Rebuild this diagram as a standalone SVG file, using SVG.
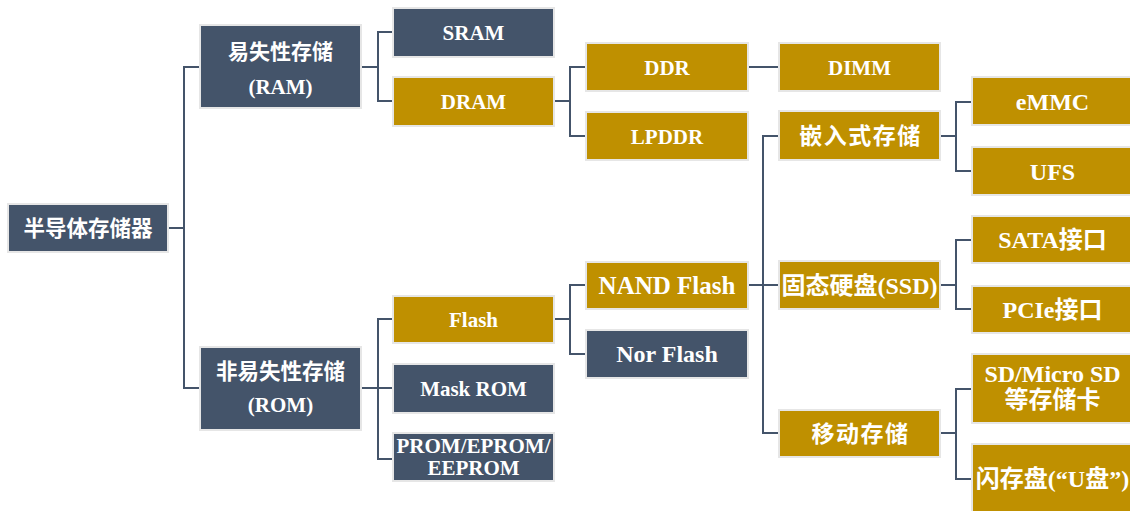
<svg xmlns="http://www.w3.org/2000/svg" width="1130" height="511" viewBox="0 0 1130 511">
<style>
.box rect{stroke:#E6E6E6;stroke-width:2}
.slate rect{fill:#44546A}
.gold rect{fill:#BF9000}
text{font-family:"Liberation Serif","Noto Sans CJK SC",serif;font-weight:bold;fill:#FFFFFF;text-anchor:middle}
.s{font-size:21px}
.l{font-size:24px}
.conn path{fill:none;stroke:#44546A;stroke-width:2}
</style>
<rect width="1130" height="511" fill="#FFFFFF"/>
<g class="conn" id="connectors">
<path d="M168,228 H184"/>
<path d="M200,67 H184 V388 H200"/>
<path d="M361,67 H378"/>
<path d="M393,32 H378 V101 H393"/>
<path d="M554,101 H570"/>
<path d="M586,67 H570 V136 H586"/>
<path d="M748,67 H779"/>
<path d="M361,388 H393"/>
<path d="M393,319 H378 V459 H393"/>
<path d="M554,319 H570"/>
<path d="M586,285 H570 V354 H586"/>
<path d="M748,285 H779"/>
<path d="M779,136 H763 V433 H779"/>
<path d="M940,136 H956"/>
<path d="M972,102 H956 V171 H972"/>
<path d="M940,285 H956"/>
<path d="M972,240 H956 V309 H972"/>
<path d="M940,433 H956"/>
<path d="M972,389 H956 V479 H972"/>
</g>
<g id="root" class="box slate"><rect x="8" y="204" width="160" height="48"/><text class="s" x="88" y="236" style="font-size:21.5px">半导体存储器</text></g>
<g id="ram" class="box slate"><rect x="200" y="25" width="161" height="83"/><text class="s" x="280.5" y="59">易失性存储</text><text class="s" x="280.5" y="94">(RAM)</text></g>
<g id="rom" class="box slate"><rect x="200" y="347" width="161" height="83"/><text class="s" x="280.5" y="379" style="font-size:21.5px">非易失性存储</text><text class="s" x="280.5" y="412">(ROM)</text></g>
<g id="sram" class="box slate"><rect x="393" y="8" width="161" height="49"/><text class="s" x="473.5" y="40">SRAM</text></g>
<g id="dram" class="box gold"><rect x="393" y="77" width="161" height="49"/><text class="s" x="473.5" y="108.5">DRAM</text></g>
<g id="ddr" class="box gold"><rect x="586" y="43" width="162" height="48"/><text class="s" x="667" y="74.5">DDR</text></g>
<g id="lpddr" class="box gold"><rect x="586" y="112" width="162" height="48"/><text class="s" x="667" y="143.5">LPDDR</text></g>
<g id="dimm" class="box gold"><rect x="779" y="43" width="161" height="48"/><text class="s" x="859.5" y="74.5">DIMM</text></g>
<g id="embedded" class="box gold"><rect x="779" y="111" width="161" height="49"/><text x="860.5" y="144" style="font-size:23px;letter-spacing:1.5px">嵌入式存储</text></g>
<g id="emmc" class="box gold"><rect x="972" y="77" width="161" height="48"/><text class="l" x="1052.5" y="109.5">eMMC</text></g>
<g id="ufs" class="box gold"><rect x="972" y="147" width="161" height="48"/><text class="l" x="1052.5" y="179.5">UFS</text></g>
<g id="ssd" class="box gold"><rect x="779" y="261" width="161" height="48"/><text class="l" x="859.5" y="294">固态硬盘(SSD)</text></g>
<g id="sata" class="box gold"><rect x="972" y="216" width="161" height="47"/><text class="l" x="1052.5" y="248">SATA接口</text></g>
<g id="pcie" class="box gold"><rect x="972" y="286" width="161" height="47"/><text class="l" x="1052.5" y="318">PCIe接口</text></g>
<g id="mobile" class="box gold"><rect x="779" y="410" width="161" height="47"/><text x="860.5" y="442" style="font-size:23px;letter-spacing:1.5px">移动存储</text></g>
<g id="sdcard" class="box gold"><rect x="972" y="354" width="161" height="69"/><text class="l" x="1052.5" y="382">SD/Micro SD</text><text class="l" x="1052.5" y="408">等存储卡</text></g>
<g id="udisk" class="box gold"><rect x="972" y="444" width="161" height="70"/><text class="l" x="1052.5" y="487">闪存盘(“U盘”)</text></g>
<g id="flash" class="box gold"><rect x="393" y="296" width="161" height="47"/><text class="s" x="473.5" y="327">Flash</text></g>
<g id="maskrom" class="box slate"><rect x="393" y="364" width="161" height="49"/><text class="s" x="473.5" y="396">Mask ROM</text></g>
<g id="prom" class="box slate"><rect x="393" y="433" width="161" height="48"/><text class="s" x="473.5" y="453">PROM/EPROM/</text><text class="s" x="473.5" y="475">EEPROM</text></g>
<g id="nand" class="box gold"><rect x="586" y="262" width="162" height="47"/><text x="667" y="294" style="font-size:25px">NAND Flash</text></g>
<g id="nor" class="box slate"><rect x="586" y="330" width="162" height="48"/><text class="l" x="667" y="362">Nor Flash</text></g>
</svg>
